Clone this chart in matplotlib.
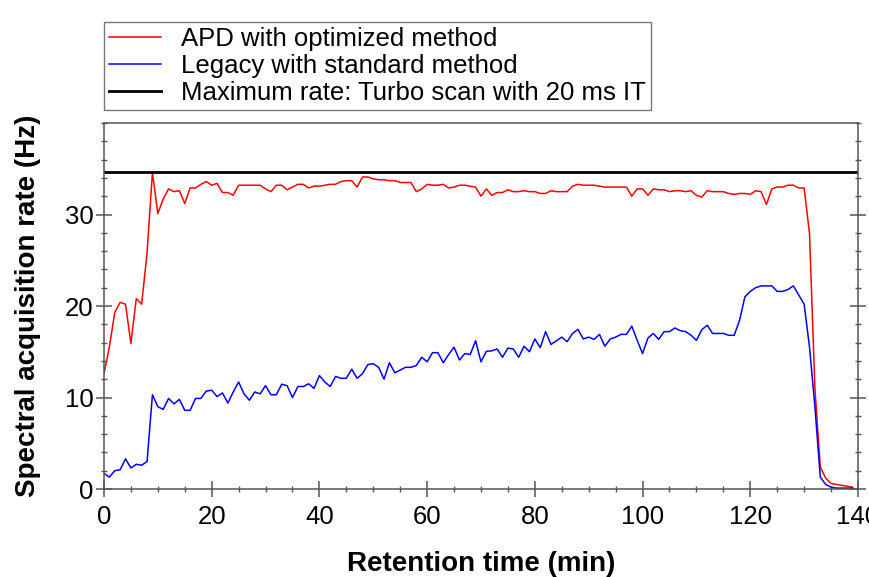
import numpy as np
import matplotlib
matplotlib.use("Agg")
import matplotlib.pyplot as plt
from matplotlib.ticker import MultipleLocator

plt.rcParams['font.family'] = ['Liberation Sans', 'DejaVu Sans']

# retention time grid (min), one scan summary per minute
time_min = np.arange(0, 140)

apd_rate = [
    12.6, 15.5, 19.3, 20.4, 20.2, 15.9, 20.8, 20.2, 25.8, 34.6,
    30.1, 31.7, 32.8, 32.5, 32.6, 31.2, 32.9, 32.9, 33.3, 33.6,
    33.2, 33.4, 32.4, 32.4, 32.1, 33.2, 33.2, 33.2, 33.2, 33.2,
    32.8, 32.5, 33.2, 33.2, 32.7, 33.0, 33.3, 33.3, 32.9, 33.1,
    33.1, 33.2, 33.3, 33.3, 33.6, 33.7, 33.7, 33.0, 34.1, 34.1,
    33.9, 33.8, 33.8, 33.7, 33.7, 33.5, 33.5, 33.5, 32.5, 32.8,
    33.3, 33.2, 33.2, 33.3, 32.9, 33.0, 33.2, 33.2, 33.1, 33.0,
    32.0, 32.8, 32.1, 32.4, 32.4, 32.7, 32.5, 32.5, 32.6, 32.5,
    32.5, 32.3, 32.3, 32.6, 32.5, 32.5, 32.5, 33.1, 33.3, 33.2,
    33.2, 33.2, 33.1, 33.0, 33.0, 33.0, 33.0, 33.0, 32.0, 32.8,
    32.8, 32.1, 32.8, 32.7, 32.7, 32.5, 32.6, 32.6, 32.5, 32.6,
    32.1, 31.9, 32.6, 32.5, 32.5, 32.5, 32.3, 32.2, 32.3, 32.3,
    32.2, 32.6, 32.5, 31.1, 32.8, 33.0, 33.0, 33.2, 33.2, 32.9,
    32.9, 27.9, 11.0, 2.4, 1.2, 0.6, 0.5, 0.4, 0.3, 0.2,
]

legacy_rate = [
    1.7, 1.3, 2.0, 2.1, 3.3, 2.3, 2.7, 2.6, 3.0, 10.3,
    9.0, 8.7, 9.9, 9.3, 9.8, 8.6, 8.6, 9.9, 9.9, 10.7,
    10.8, 10.1, 10.5, 9.4, 10.6, 11.7, 10.4, 9.7, 10.6, 10.4,
    11.3, 10.3, 10.3, 11.45, 11.3, 10.0, 11.2, 11.2, 11.5, 11.0,
    12.4, 11.7, 11.2, 12.3, 12.1, 12.1, 13.1, 12.1, 12.6, 13.6,
    13.7, 13.3, 12.0, 13.8, 12.7, 13.0, 13.3, 13.3, 13.5, 14.4,
    13.9, 14.9, 14.9, 13.8, 14.7, 15.5, 14.1, 14.8, 14.7, 16.2,
    13.9, 15.05, 15.1, 15.3, 14.4, 15.4, 15.3, 14.4, 15.6, 15.0,
    16.4, 15.45, 17.2, 15.8, 16.2, 16.6, 16.1, 17.0, 17.45, 16.4,
    16.6, 16.35, 16.9, 15.6, 16.4, 16.6, 16.9, 16.9, 17.8, 16.25,
    14.8, 16.5, 17.0, 16.35, 17.2, 17.2, 17.6, 17.3, 17.2, 16.8,
    16.25, 17.4, 17.9, 17.0, 17.0, 17.0, 16.8, 16.8, 18.4, 21.0,
    21.6, 22.0, 22.2, 22.2, 22.2, 21.6, 21.6, 21.8, 22.2, 21.2,
    20.2, 15.5, 9.0, 1.3, 0.5, 0.2, 0.1, 0.1, 0.1, 0.1,
]

max_rate = 34.6

series_labels = [
    "APD with optimized method",
    "Legacy with standard method",
    "Maximum rate: Turbo scan with 20 ms IT",
]

fig = plt.figure(figsize=(8.7, 5.77), dpi=100)
ax = fig.add_axes([0.1195, 0.1525, 0.8667, 0.6343])

ax.plot(time_min, apd_rate, color="#ff0000", lw=1.1, label=series_labels[0])
ax.plot(time_min, legacy_rate, color="#0000ff", lw=1.1, label=series_labels[1])
ax.axhline(max_rate, color="black", lw=2.0, label=series_labels[2])

ax.set_xlim(0, 140)
ax.set_ylim(0, 40)
ax.xaxis.set_major_locator(MultipleLocator(20))
ax.xaxis.set_minor_locator(MultipleLocator(5))
ax.yaxis.set_major_locator(MultipleLocator(10))
ax.yaxis.set_minor_locator(MultipleLocator(2))
ax.set_yticks([0, 10, 20, 30])

for sp in ax.spines.values():
    sp.set_color("#555555")
    sp.set_linewidth(1.1)

ax.tick_params(which="both", direction="inout", top=False, right=True,
               colors="#555555", labelcolor="black", labelsize=18.5)
ax.tick_params(which="major", length=11, width=1.1)
ax.tick_params(which="minor", length=5, width=1.0)
ax.tick_params(axis="x", pad=6)
ax.tick_params(axis="y", pad=2)

ax.set_xlabel("Retention time (min)", fontsize=20, fontweight="bold", labelpad=16)
ax.set_ylabel("Spectral acquisition rate (Hz)", fontsize=20, fontweight="bold", labelpad=17)

leg = fig.legend(loc="upper left", bbox_to_anchor=(104 / 870, 1 - 22 / 577),
                 fontsize=18.5, frameon=True, fancybox=False, edgecolor="#555555",
                 handlelength=2.0, handletextpad=0.8, labelspacing=0.12,
                 borderpad=0.2, borderaxespad=0)
leg.get_frame().set_linewidth(1.0)

fig.savefig("out.png", dpi=100)
